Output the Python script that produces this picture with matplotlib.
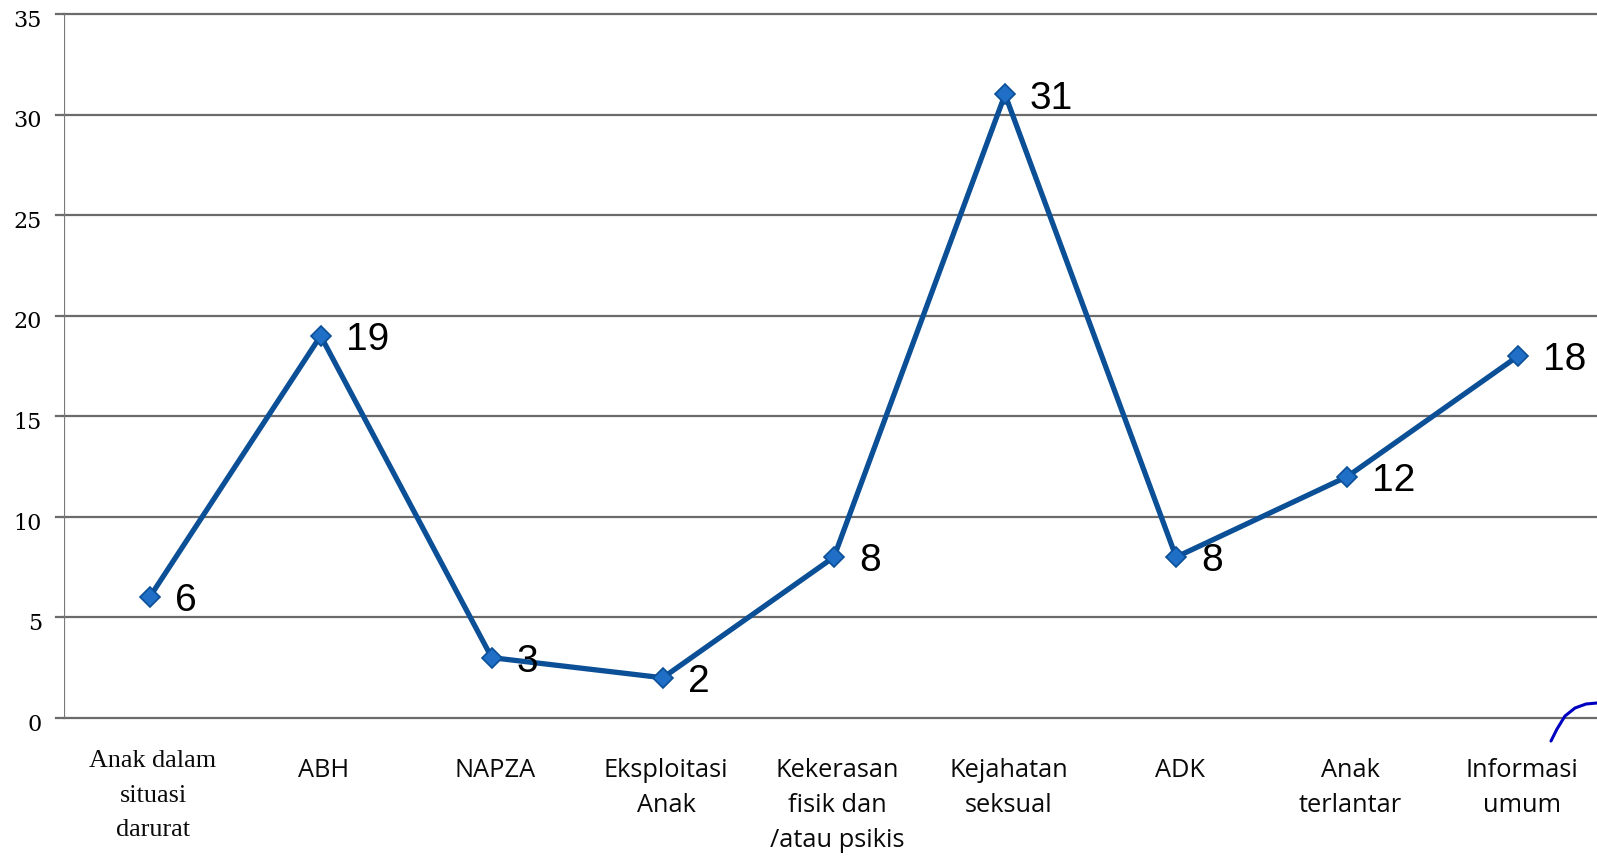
import matplotlib
matplotlib.use("Agg")
import matplotlib.pyplot as plt
from matplotlib.lines import Line2D
from matplotlib.transforms import ScaledTranslation

categories = [
    "Anak dalam\nsituasi\ndarurat",
    "ABH",
    "NAPZA",
    "Eksploitasi\nAnak",
    "Kekerasan\nfisik dan\n/atau psikis",
    "Kejahatan\nseksual",
    "ADK",
    "Anak\nterlantar",
    "Informasi\numum",
]
values = [6, 19, 3, 2, 8, 31, 8, 12, 18]
yticks = [0, 5, 10, 15, 20, 25, 30, 35]

W, H, DPI = 1597, 859, 100
fig = plt.figure(figsize=(W / DPI, H / DPI), dpi=DPI)
ax = fig.add_axes([64 / W, 1 - 718 / H, 1 - 64 / W, (718 - 14) / H])

x = list(range(len(values)))
ax.set_xlim(-0.5, len(values) - 0.5 - 0.04)
ax.set_ylim(0, 35)

# horizontal gridlines, slightly extended to the left of the axis
for t in yticks:
    ax.axhline(t, color="#6b6b6b", lw=1.6, zorder=1, clip_on=False)
    ax.add_line(Line2D([-8 / 171 - 0.5, -0.5], [t, t], color="#6b6b6b", lw=1.6,
                       clip_on=False, zorder=1))
ax.axvline(-0.5, color="#7a7a7a", lw=1.6, zorder=1)

ax.plot(x, values, color="#0b4f96", lw=3.8, zorder=3,
        marker="D", markersize=10, markerfacecolor="#1f6fc6",
        markeredgecolor="#0b4f96", markeredgewidth=1.2)

for xi, v in zip(x, values):
    ax.annotate(str(v), (xi, v), xytext=(18, -3), textcoords="offset points",
                ha="left", va="center", fontsize=28, family="Liberation Sans",
                color="black", zorder=4, annotation_clip=False)

for s in ax.spines.values():
    s.set_visible(False)

ax.set_yticks(yticks)
ax.set_yticklabels([str(t) for t in yticks], family="DejaVu Serif",
                   fontsize=16)
ax.tick_params(axis="y", length=0, pad=16)
shift = ScaledTranslation(0, -3 / 72, fig.dpi_scale_trans)
for lab in ax.get_yticklabels():
    lab.set_transform(lab.get_transform() + shift)
ax.set_xticks([])

# category labels under the axis
for i, lab in enumerate(categories):
    if i == 0:
        fam, fs, y0, ls = "Liberation Serif", 18.8, -1.6, 1.74
    else:
        fam, fs, y0, ls = "Open Sans", 18.3, -2.0, 1.52
    ax.text(i + 0.02, y0, lab, ha="center", va="top", family=fam, fontsize=fs,
            linespacing=ls, color="#0a0a0a", clip_on=False)

# hand-drawn pen stroke near the lower right corner
pen_x = [1551, 1557, 1565, 1575, 1586, 1597]
pen_y = [741, 729, 716, 708, 704, 703]
fig.add_artist(Line2D([px / W for px in pen_x], [1 - py / H for py in pen_y],
                      color="#0000c0", lw=2.2, solid_capstyle="round"))

fig.savefig("out.png", dpi=DPI)
